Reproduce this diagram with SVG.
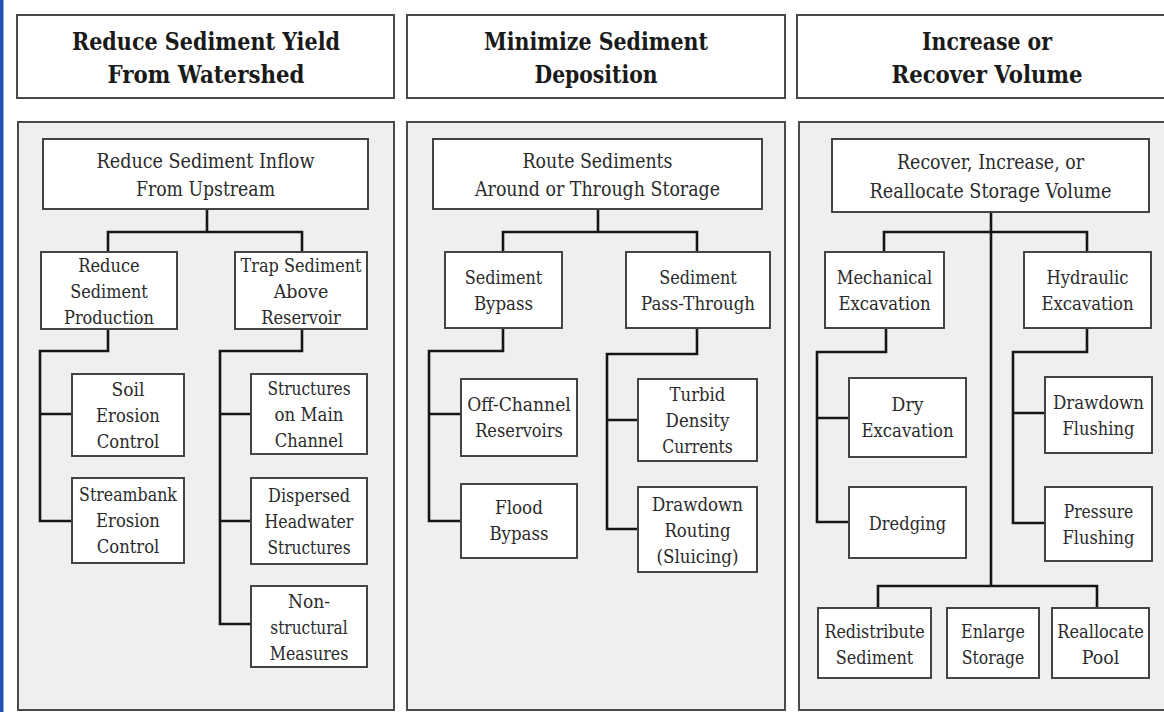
<svg xmlns="http://www.w3.org/2000/svg" width="1164" height="712" viewBox="0 0 1164 712">
<style>
.hdr{fill:#ffffff;stroke:#4a4a4a;stroke-width:2}
.pnl{fill:#efefef;stroke:#4a4a4a;stroke-width:2}
.box{fill:#ffffff;stroke:#444444;stroke-width:2}
text{font-family:'DejaVu Serif',serif;text-anchor:middle}
.ht{font-weight:bold;font-size:24.5px;fill:#1a1a1a}
.tt{font-size:20px;fill:#2a2a2a}
.bt{font-size:18.6px;fill:#2a2a2a}
.con{fill:none;stroke:#161616;stroke-width:2.6;stroke-linejoin:miter}
</style>
<rect x="0" y="0" width="1164" height="712" fill="#ffffff"/>
<rect x="0" y="0" width="3.5" height="712" fill="#2250b0"/>

<g id="panels">
<rect class="pnl" x="18" y="122" width="376" height="588"/>
<rect class="pnl" x="407" y="122" width="378" height="588"/>
<rect class="pnl" x="799" y="122" width="378" height="588"/>
</g>

<g id="connectors">
<path class="con" d="M207 209 V232 M108 252 V232 H302 V252"/>
<path class="con" d="M108 329 V351 H40 V521 H72 M40 414 H72"/>
<path class="con" d="M302 329 V351 H220 V624 H251 M220 414 H251 M220 521 H251"/>
<path class="con" d="M598 209 V232 M503 252 V232 H697 V252"/>
<path class="con" d="M503 328 V351 H429 V521 H461 M429 414 H461"/>
<path class="con" d="M697 328 V354 H607 V529 H638 M607 420 H638"/>
<path class="con" d="M991 212 V586 M884 252 V232 H1087 V252"/>
<path class="con" d="M886 328 V352 H817 V522 H849 M817 418 H849"/>
<path class="con" d="M1087 328 V352 H1013 V523 H1045 M1013 413 H1045"/>
<path class="con" d="M878 608 V586 H1097 V608"/>
</g>

<g id="header1"><rect class="hdr" x="17" y="15" width="377" height="83"/>
<text class="ht" x="206" y="50" textLength="268" lengthAdjust="spacingAndGlyphs">Reduce Sediment Yield</text><text class="ht" x="206" y="83" textLength="197" lengthAdjust="spacingAndGlyphs">From Watershed</text></g>
<g id="header2"><rect class="hdr" x="407" y="15" width="378" height="83"/>
<text class="ht" x="596" y="50" textLength="224" lengthAdjust="spacingAndGlyphs">Minimize Sediment</text><text class="ht" x="596" y="83" textLength="123" lengthAdjust="spacingAndGlyphs">Deposition</text></g>
<g id="header3"><rect class="hdr" x="797" y="15" width="378" height="83"/>
<text class="ht" x="987" y="50" textLength="130" lengthAdjust="spacingAndGlyphs">Increase or</text><text class="ht" x="987" y="83" textLength="191" lengthAdjust="spacingAndGlyphs">Recover Volume</text></g>

<g id="n-inflow"><rect class="box" x="43" y="139" width="325" height="70"/>
<text class="tt" x="205.5" y="168" textLength="218" lengthAdjust="spacingAndGlyphs">Reduce Sediment Inflow</text><text class="tt" x="205.5" y="196" textLength="139" lengthAdjust="spacingAndGlyphs">From Upstream</text></g>
<g id="n-production"><rect class="box" x="41" y="252" width="136" height="77"/>
<text class="bt" x="109" y="272" textLength="61.5" lengthAdjust="spacingAndGlyphs">Reduce</text><text class="bt" x="109" y="298" textLength="77.4" lengthAdjust="spacingAndGlyphs">Sediment</text><text class="bt" x="109" y="324" textLength="90" lengthAdjust="spacingAndGlyphs">Production</text></g>
<g id="n-trap"><rect class="box" x="235" y="252" width="132" height="77"/>
<text class="bt" x="301" y="272" textLength="121" lengthAdjust="spacingAndGlyphs">Trap Sediment</text><text class="bt" x="301" y="298" textLength="54.7" lengthAdjust="spacingAndGlyphs">Above</text><text class="bt" x="301" y="324" textLength="79.7" lengthAdjust="spacingAndGlyphs">Reservoir</text></g>
<g id="n-soil"><rect class="box" x="72" y="374" width="112" height="82"/>
<text class="bt" x="128" y="396" textLength="33" lengthAdjust="spacingAndGlyphs">Soil</text><text class="bt" x="128" y="422" textLength="63.8" lengthAdjust="spacingAndGlyphs">Erosion</text><text class="bt" x="128" y="448" textLength="62.6" lengthAdjust="spacingAndGlyphs">Control</text></g>
<g id="n-streambank"><rect class="box" x="72" y="478" width="112" height="85"/>
<text class="bt" x="128" y="501" textLength="97.9" lengthAdjust="spacingAndGlyphs">Streambank</text><text class="bt" x="128" y="527" textLength="63.8" lengthAdjust="spacingAndGlyphs">Erosion</text><text class="bt" x="128" y="553" textLength="62.6" lengthAdjust="spacingAndGlyphs">Control</text></g>
<g id="n-structures"><rect class="box" x="251" y="374" width="116" height="80"/>
<text class="bt" x="309" y="395" textLength="83.1" lengthAdjust="spacingAndGlyphs">Structures</text><text class="bt" x="309" y="421" textLength="68.9" lengthAdjust="spacingAndGlyphs">on Main</text><text class="bt" x="309" y="447" textLength="68.3" lengthAdjust="spacingAndGlyphs">Channel</text></g>
<g id="n-dispersed"><rect class="box" x="251" y="478" width="116" height="86"/>
<text class="bt" x="309" y="502" textLength="82" lengthAdjust="spacingAndGlyphs">Dispersed</text><text class="bt" x="309" y="528" textLength="88.8" lengthAdjust="spacingAndGlyphs">Headwater</text><text class="bt" x="309" y="554" textLength="83.1" lengthAdjust="spacingAndGlyphs">Structures</text></g>
<g id="n-nonstructural"><rect class="box" x="251" y="586" width="116" height="81"/>
<text class="bt" x="309" y="608" textLength="42.1" lengthAdjust="spacingAndGlyphs">Non-</text><text class="bt" x="309" y="634" textLength="77.4" lengthAdjust="spacingAndGlyphs">structural</text><text class="bt" x="309" y="660" textLength="78.6" lengthAdjust="spacingAndGlyphs">Measures</text></g>

<g id="n-route"><rect class="box" x="433" y="139" width="329" height="70"/>
<text class="tt" x="597.5" y="168" textLength="150" lengthAdjust="spacingAndGlyphs">Route Sediments</text><text class="tt" x="597.5" y="196" textLength="245" lengthAdjust="spacingAndGlyphs">Around or Through Storage</text></g>
<g id="n-bypass"><rect class="box" x="445" y="252" width="117" height="76"/>
<text class="bt" x="503.5" y="284" textLength="77.4" lengthAdjust="spacingAndGlyphs">Sediment</text><text class="bt" x="503.5" y="310" textLength="59.2" lengthAdjust="spacingAndGlyphs">Bypass</text></g>
<g id="n-passthrough"><rect class="box" x="626" y="252" width="144" height="76"/>
<text class="bt" x="698" y="284" textLength="77.4" lengthAdjust="spacingAndGlyphs">Sediment</text><text class="bt" x="698" y="310" textLength="113.9" lengthAdjust="spacingAndGlyphs">Pass-Through</text></g>
<g id="n-offchannel"><rect class="box" x="461" y="379" width="116" height="77"/>
<text class="bt" x="519" y="411" textLength="103.6" lengthAdjust="spacingAndGlyphs">Off-Channel</text><text class="bt" x="519" y="437" textLength="87.7" lengthAdjust="spacingAndGlyphs">Reservoirs</text></g>
<g id="n-floodbypass"><rect class="box" x="461" y="484" width="116" height="74"/>
<text class="bt" x="519" y="514" textLength="47.8" lengthAdjust="spacingAndGlyphs">Flood</text><text class="bt" x="519" y="540" textLength="59.2" lengthAdjust="spacingAndGlyphs">Bypass</text></g>
<g id="n-turbid"><rect class="box" x="638" y="379" width="119" height="82"/>
<text class="bt" x="697.5" y="401" textLength="55.8" lengthAdjust="spacingAndGlyphs">Turbid</text><text class="bt" x="697.5" y="427" textLength="63.8" lengthAdjust="spacingAndGlyphs">Density</text><text class="bt" x="697.5" y="453" textLength="70.6" lengthAdjust="spacingAndGlyphs">Currents</text></g>
<g id="n-drawdownrouting"><rect class="box" x="638" y="487" width="119" height="85"/>
<text class="bt" x="697.5" y="511" textLength="91.1" lengthAdjust="spacingAndGlyphs">Drawdown</text><text class="bt" x="697.5" y="537" textLength="66.1" lengthAdjust="spacingAndGlyphs">Routing</text><text class="bt" x="697.5" y="563" textLength="82" lengthAdjust="spacingAndGlyphs">(Sluicing)</text></g>

<g id="n-recover"><rect class="box" x="832" y="139" width="317" height="73"/>
<text class="tt" x="990.5" y="169" textLength="187" lengthAdjust="spacingAndGlyphs">Recover, Increase, or</text><text class="tt" x="990.5" y="198" textLength="242" lengthAdjust="spacingAndGlyphs">Reallocate Storage Volume</text></g>
<g id="n-mechanical"><rect class="box" x="825" y="252" width="119" height="76"/>
<text class="bt" x="884.5" y="284" textLength="95.6" lengthAdjust="spacingAndGlyphs">Mechanical</text><text class="bt" x="884.5" y="310" textLength="92.2" lengthAdjust="spacingAndGlyphs">Excavation</text></g>
<g id="n-hydraulic"><rect class="box" x="1024" y="252" width="127" height="76"/>
<text class="bt" x="1087.5" y="284" textLength="82" lengthAdjust="spacingAndGlyphs">Hydraulic</text><text class="bt" x="1087.5" y="310" textLength="92.2" lengthAdjust="spacingAndGlyphs">Excavation</text></g>
<g id="n-dry"><rect class="box" x="849" y="378" width="117" height="79"/>
<text class="bt" x="907.5" y="411" textLength="31.9" lengthAdjust="spacingAndGlyphs">Dry</text><text class="bt" x="907.5" y="437" textLength="92.2" lengthAdjust="spacingAndGlyphs">Excavation</text></g>
<g id="n-dredging"><rect class="box" x="849" y="487" width="117" height="71"/>
<text class="bt" x="907.5" y="530" textLength="77.4" lengthAdjust="spacingAndGlyphs">Dredging</text></g>
<g id="n-drawdownflushing"><rect class="box" x="1045" y="377" width="107" height="76"/>
<text class="bt" x="1098.5" y="409" textLength="91.1" lengthAdjust="spacingAndGlyphs">Drawdown</text><text class="bt" x="1098.5" y="435" textLength="71.8" lengthAdjust="spacingAndGlyphs">Flushing</text></g>
<g id="n-pressure"><rect class="box" x="1045" y="487" width="107" height="74"/>
<text class="bt" x="1098.5" y="518" textLength="69.5" lengthAdjust="spacingAndGlyphs">Pressure</text><text class="bt" x="1098.5" y="544" textLength="71.8" lengthAdjust="spacingAndGlyphs">Flushing</text></g>
<g id="n-redistribute"><rect class="box" x="818" y="608" width="113" height="70"/>
<text class="bt" x="874.5" y="638" textLength="100.2" lengthAdjust="spacingAndGlyphs">Redistribute</text><text class="bt" x="874.5" y="664" textLength="77.4" lengthAdjust="spacingAndGlyphs">Sediment</text></g>
<g id="n-enlarge"><rect class="box" x="947" y="608" width="92" height="70"/>
<text class="bt" x="993" y="638" textLength="63.8" lengthAdjust="spacingAndGlyphs">Enlarge</text><text class="bt" x="993" y="664" textLength="62.6" lengthAdjust="spacingAndGlyphs">Storage</text></g>
<g id="n-reallocate"><rect class="box" x="1052" y="608" width="97" height="70"/>
<text class="bt" x="1100.5" y="638" textLength="86.5" lengthAdjust="spacingAndGlyphs">Reallocate</text><text class="bt" x="1100.5" y="664" textLength="37.6" lengthAdjust="spacingAndGlyphs">Pool</text></g>
</svg>
